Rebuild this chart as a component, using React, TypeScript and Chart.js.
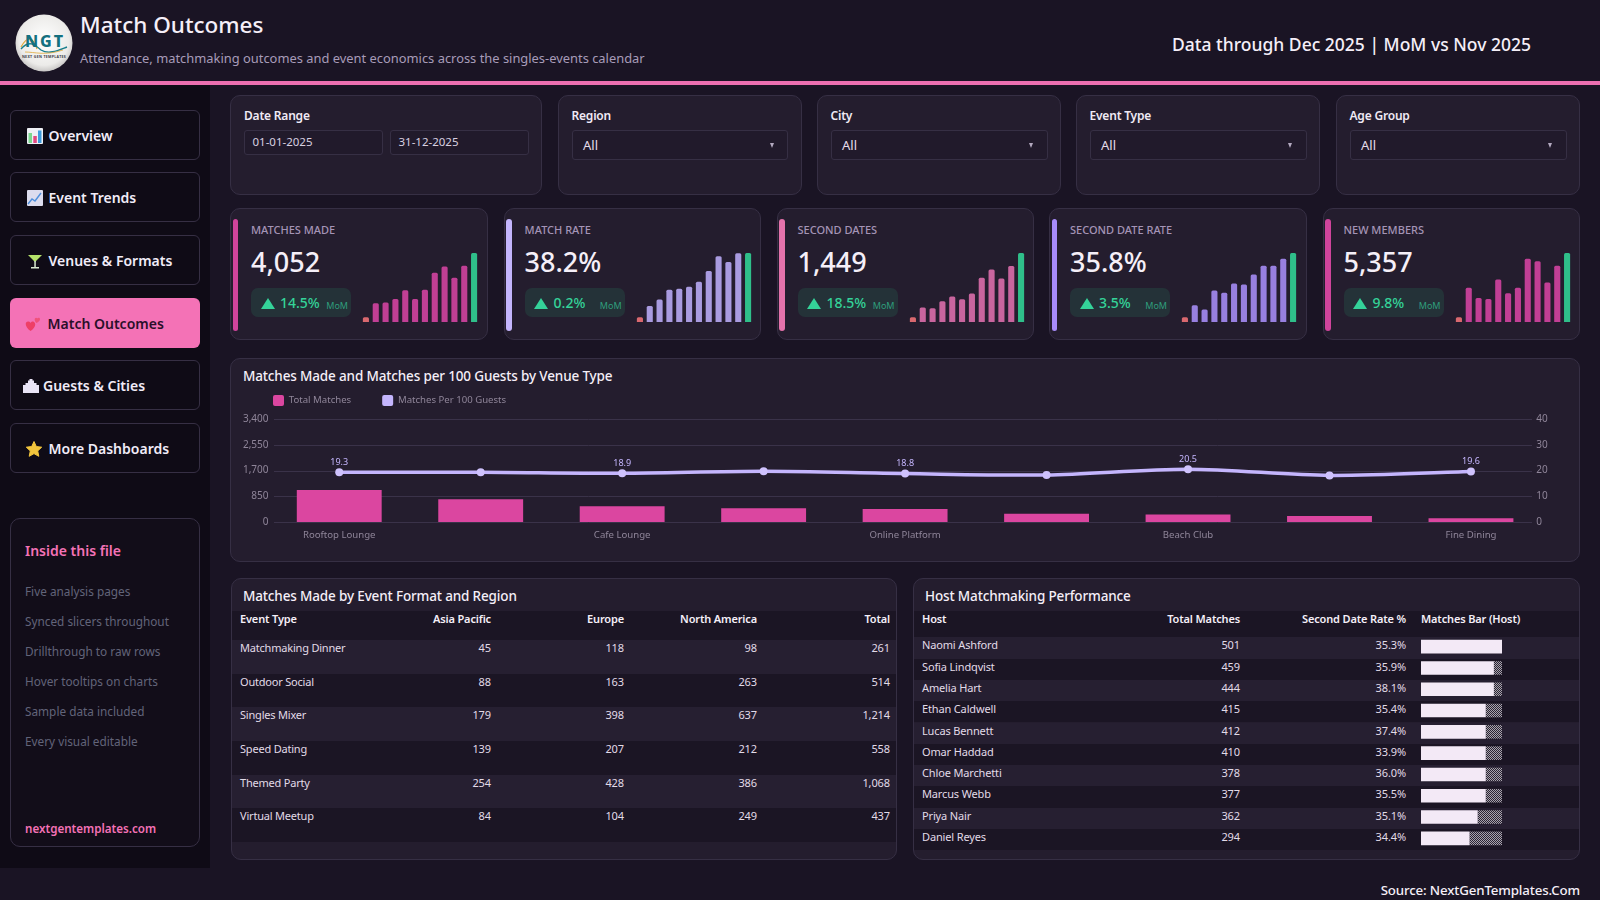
import React, { useEffect, useRef } from "react";
import { Chart, registerables } from "chart.js";

Chart.register(...registerables);

const FONT = '"Noto Sans", "Open Sans", sans-serif';
Chart.defaults.font.family = FONT;

// ---- Data ----
const venueLabels = ["Rooftop Lounge", "", "Cafe Lounge", "", "Online Platform", "", "Beach Club", "", "Fine Dining"];
const venueMatches = [1055, 750, 520, 455, 430, 270, 250, 195, 127];
const venueRate = [19.3, 19.3, 18.9, 19.7, 18.8, 18.3, 20.5, 18.1, 19.6];
const venueRateLabelled = [0, 2, 4, 6, 8];

const months = ["Jan", "Feb", "Mar", "Apr", "May", "Jun", "Jul", "Aug", "Sep", "Oct", "Nov", "Dec"];
const sparkMatches = [14, 56, 58, 69, 95, 69, 96, 147, 166, 132, 168, 206];
const sparkRate = [14, 48, 67, 96, 99, 105, 120, 152, 196, 179, 205, 206];
const sparkSecond = [14, 43, 41, 62, 76, 68, 85, 132, 157, 130, 167, 206];
const sparkSecondRate = [14, 50, 37, 94, 87, 115, 112, 142, 168, 168, 189, 206];
const sparkMembers = [14, 102, 72, 69, 127, 86, 102, 189, 181, 118, 168, 206];

const kpiLabels = ["MATCHES MADE", "MATCH RATE", "SECOND DATES", "SECOND DATE RATE", "NEW MEMBERS"];
const kpiValues = ["4,052", "38.2%", "1,449", "35.8%", "5,357"];
const kpiDeltas = ["14.5%", "0.2%", "18.5%", "3.5%", "9.8%"];
const kpiColors = ["#d0449c", "#c4b5fd", "#e472ab", "#a78bfa", "#d0449c"];
const kpiBarColors = ["#c13f95", "#a99be0", "#c9659e", "#9880e0", "#c13f95"];
const kpiSparks = [sparkMatches, sparkRate, sparkSecond, sparkSecondRate, sparkMembers];
const kpiLefts = [230, 503.6, 776.5, 1049, 1322.5];

const navItems = ["Overview", "Event Trends", "Venues & Formats", "Match Outcomes", "Guests & Cities", "More Dashboards"];
const insideItems = ["Five analysis pages", "Synced slicers throughout", "Drillthrough to raw rows", "Hover tooltips on charts", "Sample data included", "Every visual editable"];

const formatCols = ["Event Type", "Asia Pacific", "Europe", "North America", "Total"];
const formatRows = [
  ["Matchmaking Dinner", "45", "118", "98", "261"],
  ["Outdoor Social", "88", "163", "263", "514"],
  ["Singles Mixer", "179", "398", "637", "1,214"],
  ["Speed Dating", "139", "207", "212", "558"],
  ["Themed Party", "254", "428", "386", "1,068"],
  ["Virtual Meetup", "84", "104", "249", "437"],
];

const hostCols = ["Host", "Total Matches", "Second Date Rate %", "Matches Bar (Host)"];
const hostNames = ["Naomi Ashford", "Sofia Lindqvist", "Amelia Hart", "Ethan Caldwell", "Lucas Bennett", "Omar Haddad", "Chloe Marchetti", "Marcus Webb", "Priya Nair", "Daniel Reyes"];
const hostMatches = ["501", "459", "444", "415", "412", "410", "378", "377", "362", "294"];
const hostRates = ["35.3%", "35.9%", "38.1%", "35.4%", "37.4%", "33.9%", "36.0%", "35.5%", "35.1%", "34.4%"];
const hostBarFilled = [10, 9, 9, 8, 8, 8, 8, 8, 7, 6];
const hostBarEmpty = [0, 1, 1, 2, 2, 2, 2, 2, 3, 4];

const filterLabels = ["Region", "City", "Event Type", "Age Group"];
const filterLefts = [558, 817, 1076, 1336];

// ---- Colours ----
const C = {
  page: "#1a1424",
  sidebar: "#0f0b16",
  panel: "#241d2e",
  border: "#362f44",
  band: "#1b1524",
  zebra: "#261f31",
  white: "#f5eff8",
  muted: "#a497b6",
  pink: "#f472b6",
  green: "#34d399",
};

const abs = (l: number, t: number, w: number, h: number, extra: any = {}): any => ({
  position: "absolute",
  left: l,
  top: t,
  width: w,
  height: h,
  boxSizing: "border-box",
  ...extra,
});

// text whose vertical centre sits on cy
const Txt = ({ x, cy, size, weight = 400, color = C.white, right, ls, children, style }: any) => (
  <div
    style={{
      position: "absolute",
      top: cy - 15,
      height: 30,
      lineHeight: "30px",
      fontSize: size,
      fontWeight: weight,
      color,
      letterSpacing: ls,
      whiteSpace: "nowrap",
      ...(right !== undefined ? { right: 1600 - right } : { left: x }),
      ...style,
    }}
  >
    {children}
  </div>
);

function useChart(build: (el: HTMLCanvasElement) => any) {
  const ref = useRef<HTMLCanvasElement>(null);
  useEffect(() => {
    const c = new Chart(ref.current as any, build(ref.current as any));
    return () => c.destroy();
  }, []);
  return ref;
}

function Spark({ values, color, left, top, width, height }: any) {
  const ref = useChart(() => ({
    type: "bar",
    data: {
      labels: months,
      datasets: [
        {
          data: values,
          backgroundColor: values.map((_: number, i: number) =>
            i === 0 ? "#d9686f" : i === values.length - 1 ? "#2fbf8a" : color
          ),
          barPercentage: 0.62,
          categoryPercentage: 1,
          borderRadius: 1.5,
        },
      ],
    },
    options: {
      animation: false,
      responsive: false,
      events: [],
      layout: { padding: 0 },
      plugins: { legend: { display: false }, tooltip: { enabled: false } },
      scales: {
        x: { display: false },
        y: { display: false, min: 0, max: 206 },
      },
    },
  }));
  return <canvas ref={ref} width={width} height={height} style={abs(left, top, width, height)} />;
}

const gridLinesPlugin = {
  id: "gridLines",
  beforeDatasetsDraw(chart: any) {
    const { ctx } = chart;
    const y = chart.scales.y;
    ctx.save();
    ctx.strokeStyle = "#3a3249";
    ctx.lineWidth = 1;
    y.ticks.forEach((_: any, i: number) => {
      const py = Math.round(y.getPixelForTick(i)) + 0.5;
      ctx.beginPath();
      ctx.moveTo(274 - 242, py);
      ctx.lineTo(1532 - 242, py);
      ctx.stroke();
    });
    ctx.restore();
  },
};

const pointLabelsPlugin = {
  id: "pointLabels",
  afterDatasetsDraw(chart: any) {
    const { ctx } = chart;
    const meta = chart.getDatasetMeta(1);
    ctx.save();
    ctx.font = `9px ${FONT}`;
    ctx.fillStyle = "#c4b5fd";
    ctx.textAlign = "center";
    ctx.textBaseline = "middle";
    venueRateLabelled.forEach((i) => {
      const p = meta.data[i];
      ctx.fillText(venueRate[i].toFixed(1), p.x, p.y - 10);
    });
    ctx.restore();
  },
};

const legendHeightPlugin = {
  id: "legendHeight",
  beforeInit(chart: any) {
    const fit = chart.legend.fit;
    chart.legend.fit = function () {
      fit.bind(this)();
      this.height = 55;
    };
  },
};

function VenueChart() {
  const W = 1336;
  const H = 188;
  const ref = useChart(() => ({
    type: "bar",
    data: {
      labels: venueLabels,
      datasets: [
        {
          label: "Total Matches",
          data: venueMatches,
          backgroundColor: "#db46a0",
          barPercentage: 0.6,
          categoryPercentage: 1,
          yAxisID: "y",
          order: 1,
        },
        {
          type: "line",
          label: "Matches Per 100 Guests",
          data: venueRate,
          borderColor: "#c4b5fd",
          backgroundColor: "#c4b5fd",
          borderWidth: 3.5,
          pointRadius: 4,
          pointBackgroundColor: "#cfc2fd",
          pointBorderWidth: 0,
          tension: 0.3,
          yAxisID: "y2",
          order: 0,
        },
      ],
    },
    options: {
      animation: false,
      responsive: false,
      events: [],
      layout: { padding: 0 },
      plugins: {
        tooltip: { enabled: false },
        legend: {
          position: "top",
          align: "start",
          labels: {
            boxWidth: 11,
            boxHeight: 11,
            useBorderRadius: true,
            borderRadius: 2,
            padding: 31,
            color: "#8f8599",
            font: { size: 9.6 },
            generateLabels: (chart: any) =>
              (Chart.defaults.plugins.legend.labels as any)
                .generateLabels(chart)
                .map((l: any) => ({ ...l, lineWidth: 0 }))
                .sort((a: any, b: any) => a.datasetIndex - b.datasetIndex),
          },
        },
      },
      scales: {
        x: {
          grid: { display: false, drawTicks: false },
          border: { display: false },
          ticks: { color: "#8f8599", font: { size: 9.6 }, padding: 7.5, autoSkip: false, maxRotation: 0 },
          afterFit: (s: any) => {
            s.height = 30;
          },
        },
        y: {
          position: "left",
          min: 0,
          max: 3400,
          grid: { display: false, drawTicks: false },
          border: { display: false },
          ticks: {
            stepSize: 850,
            color: "#8f8599",
            padding: 0,
            font: { size: 10 },
            callback: (v: number) => v.toLocaleString("en-US"),
          },
          afterFit: (s: any) => {
            s.width = 26.5;
          },
        },
        y2: {
          position: "right",
          min: 0,
          max: 40,
          grid: { display: false, drawTicks: false },
          border: { display: false },
          ticks: { stepSize: 10, color: "#8f8599", padding: -5.5, font: { size: 10 } },
          afterFit: (s: any) => {
            s.width = 36.3;
            // the labels sit slightly inside the plot, so they must not be clipped to the axis box
            s._computeLabelArea = () => undefined;
          },
        },
      },
    },
    plugins: [legendHeightPlugin, gridLinesPlugin, pointLabelsPlugin],
  }));
  return <canvas ref={ref} width={W} height={H} style={abs(242, 364, W, H)} />;
}

function HostBars() {
  const W = 81;
  const H = 213;
  const ref = useChart((el) => {
    const pc = document.createElement("canvas");
    pc.width = 2;
    pc.height = 2;
    const p = pc.getContext("2d") as CanvasRenderingContext2D;
    p.fillStyle = "#2a2433";
    p.fillRect(0, 0, 2, 2);
    p.fillStyle = "#a8a3ad";
    p.fillRect(0, 0, 1, 1);
    p.fillRect(1, 1, 1, 1);
    const pattern = (el.getContext("2d") as CanvasRenderingContext2D).createPattern(pc, "repeat");
    return {
      type: "bar",
      data: {
        labels: hostNames,
        datasets: [
          { data: hostBarFilled, backgroundColor: "#f3e9f6", barPercentage: 0.64, categoryPercentage: 1, stack: "s" },
          { data: hostBarEmpty, backgroundColor: pattern, barPercentage: 0.64, categoryPercentage: 1, stack: "s" },
        ],
      },
      options: {
        indexAxis: "y",
        animation: false,
        responsive: false,
        events: [],
        layout: { padding: 0 },
        plugins: { legend: { display: false }, tooltip: { enabled: false } },
        scales: {
          x: { display: false, stacked: true, min: 0, max: 10 },
          y: { display: false, stacked: true },
        },
      },
    };
  });
  return <canvas ref={ref} width={W} height={H} style={abs(1421, 635.5, W, H)} />;
}

const Panel = ({ l, t, r, b, children, bg = C.panel, radius = 10 }: any) => (
  <div style={abs(l, t, r - l, b - t, { background: bg, border: `1px solid ${C.border}`, borderRadius: radius })}>{children}</div>
);

const Logo = () => (
  <svg style={abs(15, 13.5, 58, 58)} viewBox="0 0 58 58">
    <defs>
      <radialGradient id="lg" cx="50%" cy="45%" r="55%">
        <stop offset="0%" stopColor="#ffffff" />
        <stop offset="80%" stopColor="#ecebe9" />
        <stop offset="100%" stopColor="#c9c7c6" />
      </radialGradient>
    </defs>
    <circle cx="29" cy="29" r="28.5" fill="url(#lg)" />
    <path d="M6 33 C12 22 18 22 22 35" stroke="#e0a93a" strokeWidth="1.2" fill="none" />
    <path d="M6 35 C14 26 19 30 26 36 C34 41 44 36 52 33" stroke="#1a7f8e" strokeWidth="1.4" fill="none" />
    <path d="M10 38 C20 38 30 42 48 36" stroke="#e0a93a" strokeWidth="0.8" fill="none" />
    <text x="30" y="33" textAnchor="middle" fontFamily={FONT} fontWeight="800" fontSize="16" letterSpacing="2" fill="#14707f">NGT</text>
    <text x="29" y="44" textAnchor="middle" fontFamily={FONT} fontWeight="700" fontSize="3.6" letterSpacing="0.3" fill="#3c3c46">NEXT GEN TEMPLATES</text>
  </svg>
);

const icons: any[] = [
  <svg viewBox="0 0 16 16"><rect width="16" height="16" rx="1" fill="#eef0f6" /><rect x="1.5" y="5" width="3.5" height="10" fill="#7bd88f" /><rect x="6.3" y="8" width="3.5" height="7" fill="#e2477f" /><rect x="11" y="2.5" width="3.5" height="12.5" fill="#3d9bdc" /></svg>,
  <svg viewBox="0 0 16 16"><rect width="16" height="16" rx="1" fill="#dcdcee" /><path d="M1 14 L5 9 L8 11 L14 3" stroke="#4f8fdc" strokeWidth="1.4" fill="none" /></svg>,
  <svg viewBox="0 0 16 16"><path d="M1 2 H15 L8 9 Z" fill="#b5e26a" /><rect x="7.3" y="8" width="1.5" height="6" fill="#d7e8d0" /><rect x="4" y="14" width="8" height="1.5" fill="#d7e8d0" /></svg>,
  <svg viewBox="0 0 16 16"><path d="M5.5 15 C-1 10 0 5 3.5 5.5 C5 5.7 5.5 7 5.5 7 C6 6 7.5 5 9 6 C12 8.5 9 13 5.5 15 Z" fill="#ee3f66" /><path d="M11.5 7 C8.8 4.5 9.5 1.5 11.2 1.7 C12 1.8 12.2 2.4 12.2 2.4 C12.6 1.8 13.6 1.4 14.5 2 C16 3.5 14 6 11.5 7 Z" fill="#f0527a" /></svg>,
  <svg viewBox="0 0 16 16"><path d="M0 15 V7 H2.5 V5 H5 V2.5 H6.5 V1 H9.5 V2.5 H11 V5 H13.5 V7 H16 V15 Z" fill="#e9e4f6" /></svg>,
  <svg viewBox="0 0 16 16"><path d="M8 0.5 L10.3 5.5 L15.7 6.2 L11.7 9.9 L12.8 15.3 L8 12.6 L3.2 15.3 L4.3 9.9 L0.3 6.2 L5.7 5.5 Z" fill="#f2c53d" strokeLinejoin="round" stroke="#f2c53d" strokeWidth="1" /></svg>,
];
const navTops = [110, 172, 235, 298, 360, 423];
const navTextX = [48.5, 48.5, 48.5, 47.5, 43, 48.5];
const navIconX = [26.5, 26.5, 26.5, 25, 23, 26];

function Sidebar() {
  return (
    <div style={abs(0, 85, 210, 783, { background: C.sidebar })}>
      <div style={abs(0, -85, 210, 783 + 85)}>
        {navItems.map((n, i) => {
          const active = i === 3;
          return (
            <div key={n}>
              <div
                style={abs(10, navTops[i], 190, 50, {
                  background: active ? C.pink : "#0f0b16",
                  border: active ? "none" : `1px solid ${C.border}`,
                  borderRadius: 6,
                })}
              />
              <div style={abs(navIconX[i], navTops[i] + 17, 16, 16)}>{icons[i]}</div>
              <Txt x={navTextX[i]} cy={navTops[i] + 26} size={14} weight={600} color={active ? "#2a0f2a" : "#f1ecf8"}>
                {n}
              </Txt>
            </div>
          );
        })}
        <div style={abs(10, 518, 190, 329, { border: `1px solid ${C.border}`, borderRadius: 10, background: "#120d19" })} />
        <Txt x={25} cy={551} size={14} weight={600} color={C.pink}>Inside this file</Txt>
        {insideItems.map((t, i) => (
          <Txt key={t} x={25} cy={591 + i * 30} size={11.8} color="#626479">{t}</Txt>
        ))}
        <Txt x={25} cy={829} size={11.6} weight={600} color={C.pink}>nextgentemplates.com</Txt>
      </div>
    </div>
  );
}

function Filters() {
  return (
    <>
      <Panel l={230} t={95} r={542} b={195} />
      <Txt x={244} cy={116} size={12} weight={600} ls={-0.2} color="#f0eaf5">Date Range</Txt>
      {[["01-01-2025", 244], ["31-12-2025", 390]].map(([v, x]: any) => (
        <div key={v}>
          <div style={abs(x, 129.5, 139, 25, { border: `1px solid ${C.border}`, borderRadius: 3, background: "#211a2b" })} />
          <Txt x={x + 8.5} cy={142} size={11.5} color="#d8d0e0">{v}</Txt>
        </div>
      ))}
      {filterLabels.map((f, i) => {
        const l = filterLefts[i];
        const w = i === 0 ? 243.5 : 244;
        return (
          <div key={f}>
            <Panel l={l} t={95} r={l + w} b={195} />
            <Txt x={l + 13.5} cy={116} size={12} weight={600} ls={-0.2} color="#f0eaf5">{f}</Txt>
            <div style={abs(l + 13.5, 129.5, w - 27, 30, { border: `1px solid ${C.border}`, borderRadius: 3, background: "#211a2b" })} />
            <Txt x={l + 25} cy={145} size={13} color="#e4dcea">All</Txt>
            <div style={{ position: "absolute", left: l + w - 32, top: 143, width: 0, height: 0, borderLeft: "2.5px solid transparent", borderRight: "2.5px solid transparent", borderTop: "5px solid #b3a9bf" }} />
          </div>
        );
      })}
    </>
  );
}

function Kpis() {
  return (
    <>
      {kpiLabels.map((lab, i) => {
        const l = kpiLefts[i];
        return (
          <div key={lab}>
            <Panel l={l} t={208} r={l + 257.5} b={340} />
            <div style={abs(l + 2.5, 219, 5.5, 112, { background: kpiColors[i], borderRadius: 3 })} />
            <Txt x={l + 21} cy={230} size={11} weight={500} color="#a494b6">{lab}</Txt>
            <Txt x={l + 21} cy={262} size={27} weight={500}>{kpiValues[i]}</Txt>
            <div style={abs(l + 21, 288, 100, 29, { background: "#243238", borderRadius: 7 })} />
            <div style={{ position: "absolute", left: l + 30.5, top: 297.5, width: 0, height: 0, borderLeft: "7px solid transparent", borderRight: "7px solid transparent", borderBottom: "11px solid #34d399" }} />
            <Txt x={l + 50} cy={303} size={14} weight={500} color="#34d399">{kpiDeltas[i]}</Txt>
            <Txt right={l + 118} cy={306} size={9} color="#2f9e7c">MoM</Txt>
            <Spark values={kpiSparks[i]} color={kpiBarColors[i]} left={l + 131} top={253} width={118} height={69} />
          </div>
        );
      })}
    </>
  );
}

function FormatTable() {
  const rowTops = [640, 673.7, 707.4, 741, 774.7, 808.4];
  const rights = [491, 624, 757, 890];
  return (
    <>
      <Panel l={230.5} t={578} r={897} b={860} />
      <Txt x={243} cy={596} size={13.5} weight={500} ls={-0.15}>Matches Made by Event Format and Region</Txt>
      <div style={abs(231.5, 611, 664.5, 29, { background: C.band })} />
      {formatCols.map((c, i) =>
        i === 0 ? (
          <Txt key={c} x={240} cy={619} size={11} weight={600} ls={-0.15}>{c}</Txt>
        ) : (
          <Txt key={c} right={rights[i - 1]} cy={619} size={11} weight={600} ls={-0.15}>{c}</Txt>
        )
      )}
      {formatRows.map((row, r) => (
        <div key={row[0]}>
          <div style={abs(231.5, rowTops[r], 664.5, 33.7, { background: r % 2 === 0 ? C.zebra : C.band })} />
          {row.map((v, i) =>
            i === 0 ? (
              <Txt key={i} x={240} cy={rowTops[r] + 8} size={11} ls={-0.2} color="#e2dbe8">{v}</Txt>
            ) : (
              <Txt key={i} right={rights[i - 1]} cy={rowTops[r] + 8} size={11} ls={-0.1} color="#e2dbe8">{v}</Txt>
            )
          )}
        </div>
      ))}
    </>
  );
}

function HostTable() {
  const rowH = 21.3;
  return (
    <>
      <Panel l={913} t={578} r={1580} b={860} />
      <Txt x={925} cy={596} size={13.5} weight={500} ls={-0.15}>Host Matchmaking Performance</Txt>
      <div style={abs(914, 611, 665, 26.3, { background: C.band })} />
      <Txt x={922} cy={619} size={11} weight={600} ls={-0.15}>{hostCols[0]}</Txt>
      <Txt right={1240} cy={619} size={11} weight={600} ls={-0.15}>{hostCols[1]}</Txt>
      <Txt right={1406} cy={619} size={11} weight={600} ls={-0.15}>{hostCols[2]}</Txt>
      <Txt x={1421} cy={619} size={11} weight={600} ls={-0.15}>{hostCols[3]}</Txt>
      {hostNames.map((n, r) => {
        const t = 637.3 + r * rowH;
        return (
          <div key={n}>
            <div style={abs(914, t, 665, rowH, { background: r % 2 === 0 ? C.zebra : C.band })} />
            <Txt x={922} cy={t + 8} size={11} ls={-0.15} color="#e2dbe8">{n}</Txt>
            <Txt right={1240} cy={t + 8} size={11} ls={-0.1} color="#e2dbe8">{hostMatches[r]}</Txt>
            <Txt right={1406} cy={t + 8} size={11} ls={-0.1} color="#e2dbe8">{hostRates[r]}</Txt>
          </div>
        );
      })}
      <HostBars />
    </>
  );
}

export default function App() {
  useEffect(() => {
    document.body.style.margin = "0";
    document.body.style.background = C.page;
  }, []);
  return (
    <div style={{ position: "fixed", left: 0, top: 0, width: 1600, height: 900, overflow: "hidden", background: C.page, fontFamily: FONT }}>
      <div style={abs(0, 81, 1600, 4, { background: "#ec6fb0" })} />
      <Logo />
      <Txt x={80} cy={25} size={22.5} weight={500}>Match Outcomes</Txt>
      <Txt x={80} cy={58} size={12.9} color="#a79bb8">Attendance, matchmaking outcomes and event economics across the singles-events calendar</Txt>
      <Txt right={1531} cy={44} size={17.5} weight={500}>Data through Dec 2025 | MoM vs Nov 2025</Txt>
      <Sidebar />
      <Filters />
      <Kpis />
      <Panel l={230} t={358} r={1580} b={562} />
      <Txt x={243} cy={376} size={13.5} weight={500} ls={-0.15}>Matches Made and Matches per 100 Guests by Venue Type</Txt>
      <VenueChart />
      <FormatTable />
      <HostTable />
      <Txt right={1580} cy={889.5} size={13.3} weight={500} ls={-0.15}>Source: NextGenTemplates.Com</Txt>
    </div>
  );
}
